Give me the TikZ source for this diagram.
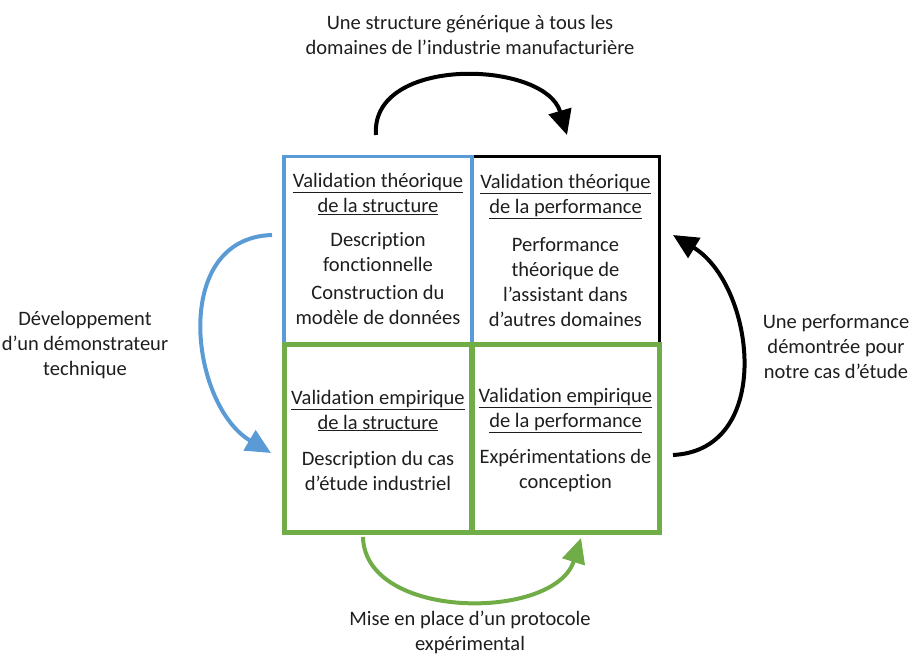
\documentclass[tikz,border=0pt]{standalone}
\usepackage{fontspec}
\setmainfont{Carlito}[Ligatures={NoCommon,NoContextual,NoRare}]
\usetikzlibrary{arrows.meta}
\definecolor{cblue}{HTML}{5B9BD5}
\definecolor{cgreen}{HTML}{70AD47}
\definecolor{ctext}{HTML}{1E1E1E}
\begin{document}
\begin{tikzpicture}[x=1pt,y=-1pt,
  txt/.style={font=\fontsize{20.5}{25}\selectfont, text=ctext, align=center, inner sep=0pt},
  cell/.style={minimum width=188pt, minimum height=188pt, inner sep=0pt, draw},
  arr/.style={line width=4pt, -{Triangle[length=25pt,width=23pt]}}]
\useasboundingbox (0,0) rectangle (914,655);
% cells
\node[cell, draw=black, line width=3.5pt] (tr) at (565.5,250.5) {};
\node[cell, draw=cblue, line width=3.2pt] (tl) at (378,250.5) {};
\node[cell, draw=cgreen, line width=5pt] (bl) at (378,438.5) {};
\node[cell, draw=cgreen, line width=5pt] (br) at (565.5,438.5) {};
% cell texts
\node[txt] (tlh) at (378,194) {\underline{Validation théorique}\\\underline{de la structure}};
\node[txt] (tlb1) at (378,252.5) {Description\\fonctionnelle};
\node[txt] (tlb2) at (378,304.5) {Construction du\\modèle de données};
\node[txt] (trh) at (565.5,197) {\underline{Validation théorique}\\\underline{de la performance}};
\node[txt] (trb) at (565.5,282.5) {Performance\\théorique de\\l’assistant dans\\d’autres domaines};
\node[txt] (blh) at (378,410.5) {\underline{Validation empirique}\\\underline{de la structure}};
\node[txt] (blb) at (378,470.5) {Description du cas\\d’étude industriel};
\node[txt] (brh) at (565.5,410.5) {\underline{Validation empirique}\\\underline{de la performance}};
\node[txt] (brb) at (565.5,470.5) {Expérimentations de\\conception};
% side texts
\node[txt] (ttop) at (470,35) {Une structure générique à tous les\\domaines de l’industrie manufacturière};
\node[txt] (tleft) at (85,345) {Développement\\d’un démonstrateur\\technique};
\node[txt] (tright) at (836,347) {Une performance\\démontrée pour\\notre cas d’étude};
\node[txt] (tbot) at (470,632) {Mise en place d’un protocole\\expérimental};
% arrow end points
\coordinate (a1s) at (376,135);
\coordinate (a1e) at (567,135);
\coordinate (a2s) at (272,235);
\coordinate (a2e) at (271,453);
\coordinate (a3s) at (673,455);
\coordinate (a3e) at (673,235);
\coordinate (a4s) at (363,537);
\coordinate (a4e) at (581,538);
% arrows
\draw[arr, black] (a1s) .. controls (370,55) and (545,60) .. (a1e);
\draw[arr, cblue] (a2s) .. controls (170,238) and (190,405) .. (a2e);
\draw[arr, black] (a3s) .. controls (775,450) and (755,285) .. (a3e);
\draw[arr, cgreen] (a4s) .. controls (365,621) and (555,621) .. (a4e);
\end{tikzpicture}
\end{document}
